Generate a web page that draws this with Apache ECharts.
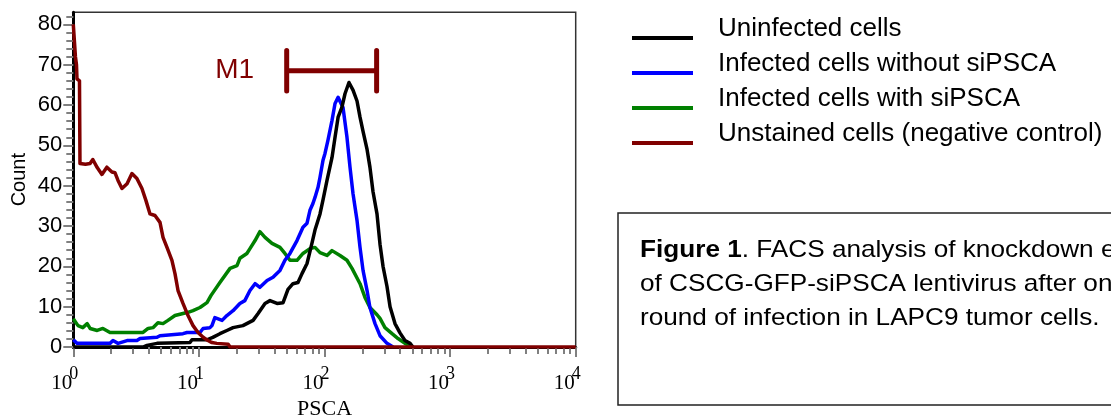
<!DOCTYPE html>
<html lang="en">
<head>
<meta charset="utf-8">
<title>PSCA FACS</title>
<script src="https://cdn.jsdelivr.net/npm/echarts@6/dist/echarts.min.js"></script>
<style>
  html, body { margin: 0; padding: 0; background: #fff; }
  #main { width: 1111px; height: 416px; }
</style>
</head>
<body>
<div id="main"></div>
<script>
const SANS = 'Liberation Sans, Arial, sans-serif';
const SERIF = 'Liberation Serif, Times New Roman, serif';

// series names / colours (legend order)
const seriesNames = ['Uninfected cells', 'Infected cells without siPSCA', 'Infected cells with siPSCA', 'Unstained cells (negative control)'];
const seriesColors = ['#000000', '#0000ff', '#008000', '#800000'];

// [PSCA, count]
const uninfected = [
  [1.0, 0], [3.59, 0], [3.86, 0.4], [4.64, 0.9], [8.49, 1.1], [8.81, 1.8], [11.6, 1.8], [12.9, 2.4],
  [14.7, 3.3], [16.7, 4.1], [18.7, 4.8], [22.4, 5.3], [27.0, 6.6], [29.6, 8.3], [33.6, 10.8], [36.8, 11.5],
  [41.9, 10.8], [46.8, 11], [51.2, 14.3], [56.1, 15.7], [61.5, 16], [66.2, 18.2], [72.6, 20.7], [79.4, 25.7],
  [84.0, 29], [92.1, 33], [97.3, 36.5], [104.7, 41.3], [114.8, 47], [121.3, 52], [128.3, 57], [137.7, 59.5],
  [145.6, 62.8], [156.6, 65.6], [168.7, 63.7], [181.5, 61], [191.8, 57], [202.7, 53.5], [218.2, 49], [230, 44.6],
  [243.4, 38.5], [261.8, 33], [276.6, 25.5], [292.4, 20], [314.5, 15], [332.6, 10], [364, 5.8], [399, 3.5],
  [437, 1.6], [480, 0.9], [506, 0]
];
const infectedNoSi = [
  [1.0, 1.8], [1.03, 1.6], [1.07, 0.9], [1.96, 0.9], [2.07, 1.6], [2.27, 0.9], [2.68, 1.6], [3.21, 1.6],
  [3.40, 2.1], [4.64, 2.4], [4.90, 2.8], [7.47, 3.3], [8.04, 3.6], [10.2, 3.6], [10.8, 4.6], [12.25, 4.8],
  [12.7, 5.3], [13.4, 7.3], [15.3, 6.6], [16.7, 7.8], [18.7, 9], [21.2, 10.8], [23.2, 11.5], [25.5, 14],
  [28.0, 15.7], [30.6, 14.8], [34.9, 16.5], [38.9, 17.3], [44.2, 19], [48.4, 21.5], [53.1, 23.2], [60.4, 26.4],
  [67.4, 29.7], [72.6, 30.7], [76.6, 33.9], [80.9, 35.6], [84.0, 37.1], [88.8, 39.6], [92.1, 42.1], [97.3, 46.3],
  [100.9, 48], [106.6, 51.3], [114.8, 56.2], [121.3, 60.4], [128.3, 61.9], [132.9, 62], [140.4, 59.4], [151, 52],
  [159.6, 44.6], [168.7, 38], [181.5, 31.4], [191.8, 24.7], [202.7, 19], [218.2, 14], [230, 9.8], [252.5, 5.8],
  [276.6, 2.8], [314.5, 0.9], [351.5, 0]
];
const infectedSi = [
  [1.0, 7], [1.09, 5.3], [1.19, 4.8], [1.29, 5.8], [1.36, 4.6], [1.55, 4.1], [1.72, 4.6], [1.96, 3.6],
  [2.23, 3.6], [2.83, 3.6], [3.59, 3.6], [3.94, 4.6], [4.31, 4.8], [4.72, 6], [5.18, 5.8], [5.67, 6.6],
  [6.45, 7.8], [7.47, 8.3], [8.19, 8.6], [8.98, 9], [10.2, 9.8], [11.6, 11], [12.5, 12.8], [14.7, 16],
  [17.7, 19.5], [20.1, 20.2], [21.2, 22], [24.1, 23.2], [25.5, 24.4], [28.0, 26.4], [30.6, 28.6], [33.6, 27.2],
  [38.2, 25.7], [44.2, 24.7], [48.4, 23.2], [53.1, 21.5], [60.4, 21.5], [67.4, 23.2], [76.6, 24.4], [84.0, 24.7],
  [92.1, 23.4], [104.7, 22.7], [114.8, 23.9], [132.9, 22.7], [151, 21.5], [165.6, 19.5], [191.8, 15.7], [210, 12.3],
  [230, 9.8], [262, 8.0], [276.6, 7.1], [303, 4.8], [345, 3.3], [385, 2.1], [437, 0.9], [497, 0]
];
const unstained = [
  [1.0, 80], [1.02, 76], [1.04, 72], [1.06, 70], [1.07, 66.5], [1.12, 66], [1.13, 45.5], [1.25, 45.3],
  [1.36, 45.5], [1.43, 46.5], [1.55, 44.5], [1.69, 42.8], [1.85, 44.6], [2.03, 43.4], [2.15, 43.2], [2.27, 41.3],
  [2.44, 39.3], [2.68, 40.5], [2.93, 43], [3.21, 41.8], [3.52, 39.3], [3.79, 36.3], [4.08, 33], [4.47, 32.6],
  [4.9, 30.9], [5.18, 27.2], [5.57, 24.7], [6.1, 21.5], [6.45, 18.2], [6.82, 14], [7.47, 10.8], [8.19, 7.8],
  [8.98, 5.3], [9.84, 3.6], [10.8, 2.4], [11.8, 1.6], [12.7, 1.1], [13.9, 0.9], [17.1, 0.7], [17.7, 0],
  [10000, 0]
];

// M1 gate
const m1Gate = [50, 260];
const m1Level = 68.5;
const m1Cap = 5;

// ticks
const xMajorTicks = [1, 10, 100, 1000, 10000];
const xMinorTicks = [];
xMajorTicks.slice(0, 4).forEach((d) => {
  for (let k = 2; k <= 9; k++) xMinorTicks.push(d * k);
});
const yTicks = [0, 10, 20, 30, 40, 50, 60, 70, 80];
const yMinorTicks = [];
for (let v = 0; v <= 82; v += 2) yMinorTicks.push(v);

const captionLines = [
  '{b|Figure 1}. FACS analysis of knockdown efficiency',
  'of CSCG-GFP-siPSCA lentivirus after one',
  'round of infection in LAPC9 tumor cells.'
];

let chart = echarts.init(document.getElementById('main'));

function histSeries(name, data, color) {
  return {
    name: name,
    type: 'line',
    data: data,
    symbol: 'none',
    lineStyle: { color: color, width: 3.5, join: 'round' },
    itemStyle: { color: color },
    z: 3
  };
}

const tickStyle = { color: '#808080', width: 2 };

let option = {
  backgroundColor: '#ffffff',
  animation: false,
  grid: {
    left: 73.3, right: 535.3, top: 12.3, bottom: 69,
    show: true, borderColor: '#333', borderWidth: 1.5,
    containLabel: false, outerBoundsMode: 'none'
  },
  legend: {
    data: seriesNames,
    orient: 'vertical',
    left: 632, top: 16, padding: 0,
    itemWidth: 61, itemHeight: 22, itemGap: 9,
    icon: 'path://M0,0 L0.01,0 L0.01,0.01 L0,0.01 Z M0,18 L61,18 L61,22 L0,22 Z',
    textStyle: { fontFamily: SANS, fontSize: 26, color: '#000', padding: [0, 0, 0, 20] },
    selectedMode: false
  },
  xAxis: [
    {
      type: 'log', logBase: 10, min: 1, max: 10000, position: 'bottom',
      name: 'PSCA', nameLocation: 'middle', nameGap: 50,
      nameTextStyle: { fontFamily: SERIF, fontSize: 22, color: '#000' },
      axisLine: { show: true, onZero: false, lineStyle: { color: '#000', width: 3 } },
      axisTick: { show: true, customValues: xMajorTicks, length: 10, lineStyle: tickStyle },
      axisLabel: {
        customValues: xMajorTicks, align: 'right', margin: 18,
        formatter: (v) => '{m|10}{s|' + Math.round(Math.log10(v)) + '}',
        rich: {
          m: { fontFamily: SERIF, fontSize: 21, color: '#000', width: 18, align: 'left', lineHeight: 36 },
          s: { fontFamily: SERIF, fontSize: 18, color: '#000', width: 4, align: 'left', verticalAlign: 'top' }
        }
      },
      splitLine: { show: false }
    },
    {
      type: 'log', logBase: 10, min: 1, max: 10000, position: 'bottom',
      axisLine: { show: false, onZero: false },
      axisTick: { show: true, customValues: xMinorTicks, length: 7, lineStyle: tickStyle },
      axisLabel: { show: false },
      splitLine: { show: false }
    }
  ],
  yAxis: [
    {
      type: 'value', min: 0, max: 83, position: 'left',
      name: 'Count', nameLocation: 'middle', nameGap: 44,
      nameTextStyle: { fontFamily: SANS, fontSize: 20, color: '#000' },
      axisLine: { show: true, onZero: false, lineStyle: { color: '#000', width: 3 } },
      axisTick: { show: true, customValues: yTicks, length: 10, lineStyle: tickStyle },
      axisLabel: { customValues: yTicks, margin: 11, fontFamily: SANS, fontSize: 22, color: '#000' },
      splitLine: { show: false }
    },
    {
      type: 'value', min: 0, max: 83, position: 'left',
      axisLine: { show: false, onZero: false },
      axisTick: { show: true, customValues: yMinorTicks, length: 7, lineStyle: tickStyle },
      axisLabel: { show: false },
      splitLine: { show: false }
    }
  ],
  series: [
    histSeries(seriesNames[2], infectedSi, seriesColors[2]),
    histSeries(seriesNames[1], infectedNoSi, seriesColors[1]),
    histSeries(seriesNames[0], uninfected, seriesColors[0]),
    histSeries(seriesNames[3], unstained, seriesColors[3]),
    {
      // M1 gate bar drawn as one polyline
      name: 'M1',
      type: 'line',
      data: [
        [m1Gate[0], m1Level + m1Cap], [m1Gate[0], m1Level - m1Cap], [m1Gate[0], m1Level],
        [m1Gate[1], m1Level], [m1Gate[1], m1Level + m1Cap], [m1Gate[1], m1Level - m1Cap]
      ],
      symbol: 'none',
      lineStyle: { color: '#800000', width: 5, cap: 'round', join: 'round' },
      z: 4
    },
    {
      name: 'M1 label',
      type: 'scatter',
      data: [[m1Gate[0], m1Level]],
      symbolSize: 1,
      itemStyle: { color: 'transparent', opacity: 1 },
      label: {
        show: true, formatter: 'M1', position: 'left', distance: 32,
        color: '#800000', fontFamily: SANS, fontSize: 28
      },
      silent: true,
      z: 4
    }
  ],
  graphic: [
    {
      type: 'rect', x: 618, y: 213,
      shape: { x: 0, y: 0, width: 560, height: 192 },
      style: { fill: 'none', stroke: '#222', lineWidth: 1.5 }
    },
    {
      type: 'text', x: 640, y: 250, scaleX: 1.09,
      style: { text: captionLines[0], fill: '#000', fontFamily: SANS, fontSize: 24, verticalAlign: 'middle',
        rich: { b: { fontFamily: SANS, fontSize: 24, fontWeight: 'bold', fill: '#000' } } }
    },
    {
      type: 'text', x: 640, y: 284.5, scaleX: 1.09,
      style: { text: captionLines[1], fill: '#000', fontFamily: SANS, fontSize: 24, verticalAlign: 'middle' }
    },
    {
      type: 'text', x: 640, y: 318, scaleX: 1.09,
      style: { text: captionLines[2], fill: '#000', fontFamily: SANS, fontSize: 24, verticalAlign: 'middle' }
    }
  ]
};

chart.setOption(option);
</script>
</body>
</html>
